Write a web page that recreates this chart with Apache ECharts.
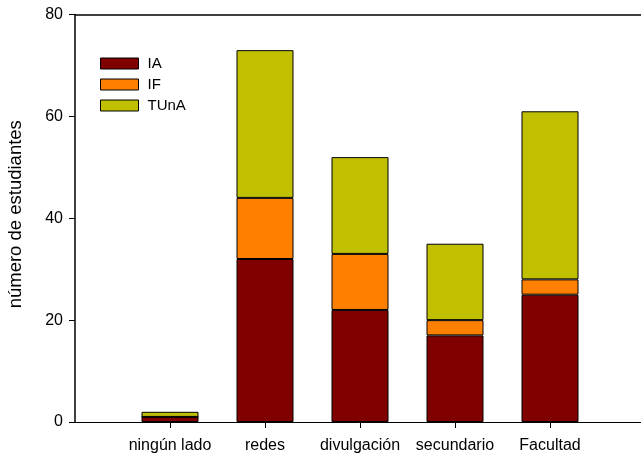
<!DOCTYPE html>
<html>
<head>
<meta charset="utf-8">
<script src="https://cdn.jsdelivr.net/npm/echarts@6/dist/echarts.min.js"></script>
<style>
  html, body { margin: 0; padding: 0; background: #fff; }
  #chart { width: 641px; height: 456px; }
</style>
</head>
<body>
<div id="chart"></div>
<script>
// categorias (con huecos en los extremos para el espaciado)
var categorias = ['', 'ningún lado', 'redes', 'divulgación', 'secundario', 'Facultad', '']
var valoresIA = [null, 1, 32, 22, 17, 25, null]
var valoresIF = [null, 0, 12, 11, 3, 3, null]
var valoresTUnA = [null, 1, 29, 19, 15, 33, null]
var ticksY = [0, 20, 40, 60, 80]

var chart = echarts.init(document.getElementById('chart'))

function serie(nombre, datos, color) {
    return {
        name: nombre,
        type: 'bar',
        stack: 'total',
        barWidth: 57,
        itemStyle: {
            color: color,
            borderColor: '#000',
            borderWidth: 1
        },
        data: datos
    }
}

var option = {
    animation: false,
    textStyle: { fontFamily: 'Liberation Sans, Arial, sans-serif' },
    grid: {
        left: 75,
        top: 14.5,
        width: 570,
        bottom: 34,
        outerBoundsMode: 'none'
    },
    legend: {
        data: ['IA', 'IF', 'TUnA'],
        orient: 'vertical',
        left: 100,
        top: 56,
        padding: 0,
        icon: 'rect',
        itemWidth: 38,
        itemHeight: 11,
        itemGap: 6,
        itemStyle: { borderColor: '#000', borderWidth: 1 },
        textStyle: { fontSize: 15, color: '#000', padding: [0, 0, 0, 4] }
    },
    xAxis: [
        {
            type: 'category',
            boundaryGap: false,
            data: categorias,
            axisLine: { lineStyle: { color: '#000', width: 1 } },
            axisTick: {
                length: 6,
                inside: false,
                lineStyle: { color: '#000' },
                interval: function (i) { return i > 0 && i < categorias.length - 1 }
            },
            axisLabel: {
                fontSize: 16,
                color: '#000',
                margin: 16,
                interval: 0
            },
            splitLine: { show: false }
        },
        {
            type: 'category',
            position: 'top',
            boundaryGap: false,
            data: categorias,
            axisLine: { lineStyle: { color: '#000', width: 1.5 } },
            axisTick: { show: false },
            axisLabel: { show: false }
        }
    ],
    yAxis: {
        type: 'value',
        min: ticksY[0],
        max: ticksY[ticksY.length - 1],
        interval: 20,
        name: 'número de estudiantes',
        nameLocation: 'middle',
        nameGap: 50,
        nameTextStyle: { fontSize: 18.5, color: '#000', padding: [0, 0, 0, 8] },
        axisLine: { show: true, lineStyle: { color: '#000', width: 1.5 } },
        axisTick: { show: true, length: 6, lineStyle: { color: '#000' } },
        axisLabel: { fontSize: 16, color: '#000', margin: 12 },
        splitLine: { show: false }
    },
    series: [
        serie('IA', valoresIA, '#800000'),
        serie('IF', valoresIF, '#ff8000'),
        serie('TUnA', valoresTUnA, '#c0c000')
    ]
}
chart.setOption(option)
</script>
</body>
</html>
